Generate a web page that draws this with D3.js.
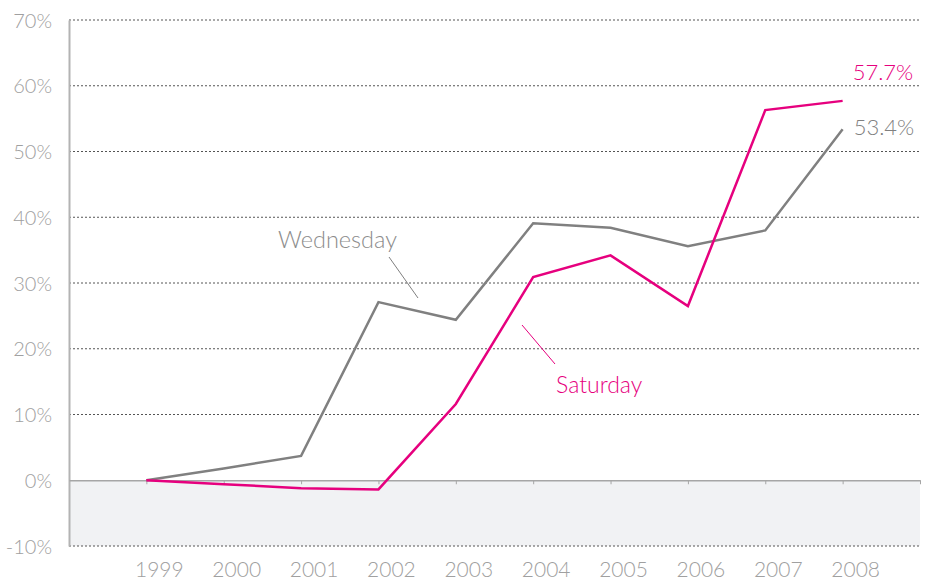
<!DOCTYPE html>
<html><head><meta charset="utf-8">
<script src="https://cdn.jsdelivr.net/npm/d3@7"></script>
<style>
html,body{margin:0;padding:0;background:#fff;}
svg text{font-family:Lato,"Open Sans",sans-serif;font-weight:300;}
</style></head>
<body><svg id="c" width="930" height="580"></svg>
<script>
const years = ["1999","2000","2001","2002","2003","2004","2005","2006","2007","2008"];
const wednesday = [0, 1.8, 3.7, 27.1, 24.4, 39.1, 38.4, 35.6, 38.0, 53.4];
const saturday = [0, -0.6, -1.2, -1.4, 11.6, 30.9, 34.2, 26.5, 56.3, 57.7];
const yTicks = [-10, 0, 10, 20, 30, 40, 50, 60, 70];

(function(){
const svg = d3.select("#c");
const pl = 69, pr = 920, pt = 20, pb = 546;
const y = d3.scaleLinear().domain([-10, 70]).range([pb, pt]);
const x = d3.scaleLinear().domain([-1, 10]).range([pl, pr]);
const xi = i => x(i);

// grey negative region
svg.append("rect").attr("x", pl).attr("y", y(0)).attr("width", pr - pl)
  .attr("height", y(-10) - y(0)).attr("fill", "#f1f2f4");

// dotted grid
svg.append("g").selectAll("line").data(yTicks.filter(d => d !== 0)).join("line")
  .attr("x1", pl).attr("x2", pr).attr("y1", d => y(d)).attr("y2", d => y(d))
  .attr("stroke", "#555").attr("stroke-width", 1).attr("stroke-dasharray", "2,2");

// y axis
const yAxis = d3.axisLeft(y).tickValues(yTicks).tickSize(0).tickPadding(17)
  .tickFormat(d => d + "%");
const gy = svg.append("g").attr("transform", `translate(${pl},0)`).call(yAxis);
gy.select(".domain").attr("stroke", "#b3b3b3").attr("stroke-width", 2);
gy.selectAll("text").attr("fill", "#a0a0a0").attr("font-size", 20).attr("dy", "0.35em");

// x axis at zero
const tickIdx = d3.range(0, 11);
const xAxis = d3.axisBottom(x).tickValues(tickIdx).tickSize(4).tickSizeOuter(0).tickFormat("");
const gx = svg.append("g").attr("transform", `translate(0,${y(0)})`).call(xAxis);
gx.select(".domain").attr("stroke", "#a6a6a6").attr("stroke-width", 1.5);
gx.selectAll(".tick line").attr("stroke", "#a6a6a6");

// x labels
svg.append("g").selectAll("text").data(years).join("text")
  .attr("x", (d, i) => xi(i) + 13).attr("y", 577)
  .attr("text-anchor", "middle").attr("fill", "#a0a0a0").attr("font-size", 21)
  .text(d => d);

const line = d3.line().x((d, i) => xi(i)).y(d => y(d));
svg.append("path").datum(wednesday).attr("d", line).attr("fill", "none")
  .attr("stroke", "#808080").attr("stroke-width", 2.5).attr("stroke-linejoin", "miter");
svg.append("path").datum(saturday).attr("d", line).attr("fill", "none")
  .attr("stroke", "#e6007e").attr("stroke-width", 2.5).attr("stroke-linejoin", "miter");

// end labels
const last = years.length - 1;
svg.append("text").attr("x", xi(last) + 10).attr("y", y(saturday[last]) - 21)
  .attr("fill", "#e6007e").attr("font-size", 22).text(saturday[last].toFixed(1) + "%");
svg.append("text").attr("x", xi(last) + 11).attr("y", y(wednesday[last]) + 6)
  .attr("fill", "#808080").attr("font-size", 22).text(wednesday[last].toFixed(1) + "%");

// series labels with leaders
svg.append("text").attr("x", 278).attr("y", 248).attr("fill", "#8c8c8c")
  .attr("font-size", 23.5).text("Wednesday");
svg.append("line").attr("x1", 389).attr("y1", 257).attr("x2", 418).attr("y2", 298)
  .attr("stroke", "#808080").attr("stroke-width", 1);
svg.append("text").attr("x", 556).attr("y", 393).attr("fill", "#e6007e")
  .attr("font-size", 23).text("Saturday");
svg.append("line").attr("x1", 522).attr("y1", 325).attr("x2", 555).attr("y2", 364)
  .attr("stroke", "#e6007e").attr("stroke-width", 1);
})();
</script></body></html>
